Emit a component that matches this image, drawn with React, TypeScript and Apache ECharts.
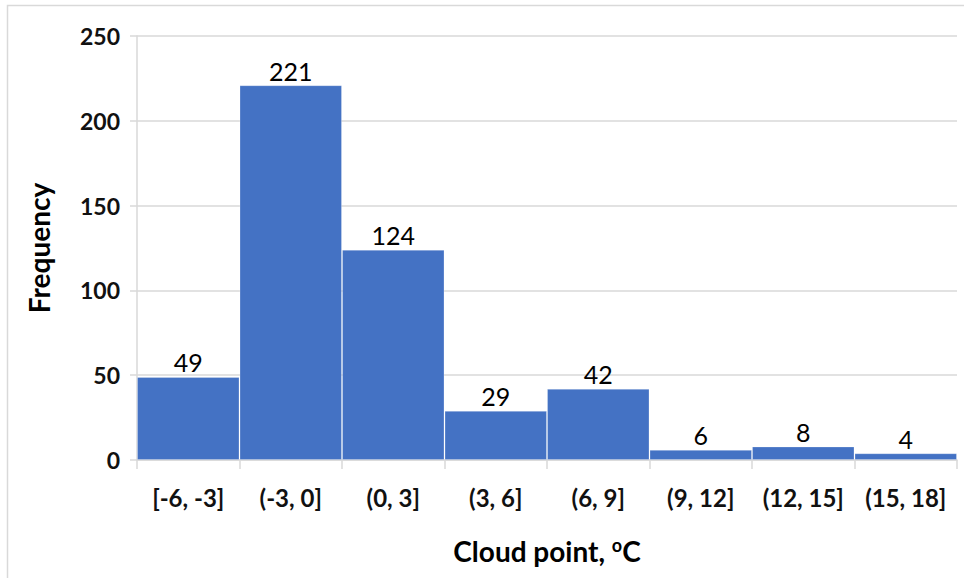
import React, { useEffect, useRef } from "react";
import * as echarts from "echarts";

const categories = ["[-6, -3]", "(-3, 0]", "(0, 3]", "(3, 6]", "(6, 9]", "(9, 12]", "(12, 15]", "(15, 18]"];
const frequencies = [49, 221, 124, 29, 42, 6, 8, 4];
const yTicks = { min: 0, max: 250, interval: 50 };

const FONT = "Lato, 'Open Sans', sans-serif";

export default function App() {
  const ref = useRef<HTMLDivElement>(null);
  useEffect(() => {
    document.body.style.margin = "0";
    const chart = echarts.init(ref.current!, null, { renderer: "svg" });
    chart.setOption({
      animation: false,
      backgroundColor: "#ffffff",
      textStyle: { fontFamily: FONT },
      graphic: [
        {
          type: "rect",
          shape: { x: 7.5, y: 5.5, width: 970, height: 590 },
          style: { fill: "none", stroke: "#d9d9d9", lineWidth: 1.5 },
          silent: true,
        },
      ],
      grid: { left: 137, right: 7, top: 36, bottom: 118, containLabel: false },
      xAxis: {
        type: "category",
        data: categories,
        name: "Cloud point, {sup|o}C",
        nameLocation: "middle",
        nameGap: 76,
        nameTextStyle: {
          fontFamily: FONT,
          fontWeight: "bold",
          fontSize: 28,
          color: "#000",
          rich: {
            sup: { fontFamily: FONT, fontWeight: "bold", fontSize: 18, color: "#000", padding: [0, 0, 12, 0] },
          },
        },
        axisLine: { show: true, lineStyle: { color: "#d9d9d9", width: 1.5 } },
        axisTick: { show: true, interval: 0, length: 9, lineStyle: { color: "#d9d9d9", width: 1.5 } },
        axisLabel: { interval: 0, fontFamily: FONT, fontWeight: "bold", fontSize: 24, color: "#111", margin: 25 },
        splitLine: { show: false },
      },
      yAxis: {
        type: "value",
        min: yTicks.min,
        max: yTicks.max,
        interval: yTicks.interval,
        name: "Frequency",
        nameLocation: "middle",
        nameGap: 84,
        nameRotate: 90,
        nameTextStyle: { fontFamily: FONT, fontWeight: "bold", fontSize: 28, color: "#000" },
        axisLine: { show: true, lineStyle: { color: "#d9d9d9", width: 1.5 } },
        axisTick: { show: true, length: 7, lineStyle: { color: "#d9d9d9", width: 1.5 } },
        axisLabel: { fontFamily: FONT, fontWeight: "bold", fontSize: 23, color: "#111", margin: 17 },
        splitLine: { show: true, lineStyle: { color: "#d9d9d9", width: 1.5 } },
      },
      series: [
        {
          type: "bar",
          data: frequencies,
          barCategoryGap: "0%",
          itemStyle: { color: "#4472c4", borderColor: "rgba(255,255,255,0.25)", borderWidth: 1 },
          label: {
            show: true,
            position: "top",
            distance: 2,
            fontFamily: FONT,
            fontSize: 25,
            color: "#000",
          },
        },
      ],
    });
    return () => chart.dispose();
  }, []);
  return <div ref={ref} style={{ width: 964, height: 578 }} />;
}
